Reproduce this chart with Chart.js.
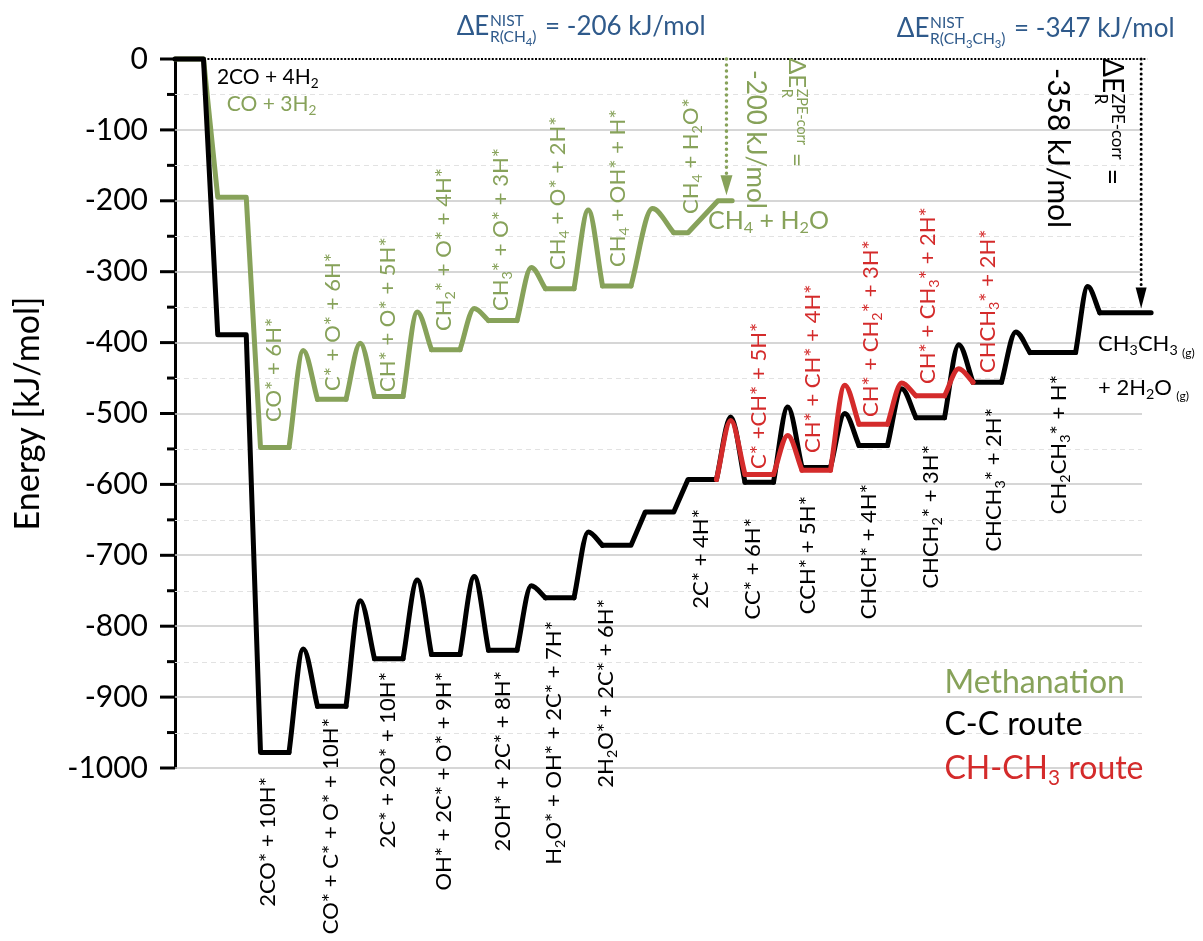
<!DOCTYPE html>
<html>
<head>
<meta charset="utf-8">
<script src="https://cdn.jsdelivr.net/npm/chart.js@4.4.0/dist/chart.umd.min.js"></script>
<style>
  html, body { margin: 0; padding: 0; background: #fff; }
  #wrap { position: relative; width: 1203px; height: 941px; overflow: hidden; font-family: Lato, "Open Sans", sans-serif; }
  #c { position: absolute; left: 0; top: 0; }
  #labels { position: absolute; left: 0; top: 0; width: 1203px; height: 941px; pointer-events: none; }
  .lb { position: absolute; white-space: nowrap; line-height: 1; transform-origin: 0 0; }
  .lb sub { font-size: 0.65em; vertical-align: -0.3em; line-height: 0; }
  .rot { letter-spacing: 0; }
  .g { font-size: 0.55em; vertical-align: -0.45em; margin-left: 0.35em; }
  .ss { display: inline-flex; flex-direction: column; font-size: 0.6em; line-height: 1.05; vertical-align: 0.55em; margin: 0 0.12em 0 0.04em; }
  .ss sub { font-size: 0.72em; vertical-align: -0.3em; }
</style>
</head>
<body>
<div id="wrap">
  <canvas id="c" width="1203" height="941"></canvas>
  <div id="labels"></div>
</div>
<script>
// ---- energies (kJ/mol) of intermediates and transition states ----
// Methanation: CO + 3H2 -> CH4 + H2O
const methLevels   = [0, -195, -548, -480, -476, -410, -369, -324, -320, -245, -200];
const methBarriers = [null, null, -411, -401, -357, -352, -294, -213, -211, null];

// C-C coupling route: 2CO + 4H2 -> CH3CH3 + 2H2O
const ccLevels   = [0, -389, -978, -913, -846, -840, -834, -760, -686, -639, -593, -597, -576, -545, -506, -456, -414, -358];
const ccBarriers = [null, null, -832, -764, -735, -730, -743, -667, null, null, -505, -491, -500, -465, -403, -385, -321];

// CH-CH3 route, branching off at 2C* + 4H* and rejoining at CHCH3* + 2H*
const chch3Levels   = [-593, -586, -580, -515, -475, -456];
const chch3Barriers = [-510, -531, -460, -457, -437];

// ---- state names ----
const methStates = ['CO + 3H<sub>2</sub>', null, 'CO* + 6H*', 'C* + O* + 6H*', 'CH* + O* + 5H*',
  'CH<sub>2</sub>* + O* + 4H*', 'CH<sub>3</sub>* + O* + 3H*', 'CH<sub>4</sub> + O* + 2H*',
  'CH<sub>4</sub> + OH* + H*', 'CH<sub>4</sub> + H<sub>2</sub>O*', 'CH<sub>4</sub> + H<sub>2</sub>O'];
const ccStates = ['2CO + 4H<sub>2</sub>', null, '2CO* + 10H*', 'CO* + C* + O* + 10H*', '2C* + 2O* + 10H*',
  'OH* + 2C* + O* + 9H*', '2OH* + 2C* + 8H*', 'H<sub>2</sub>O* + OH* + 2C* + 7H*',
  '2H<sub>2</sub>O* + 2C* + 6H*', null, '2C* + 4H*', 'CC* + 6H*', 'CCH* + 5H*', 'CHCH* + 4H*',
  'CHCH<sub>2</sub>* + 3H*', 'CHCH<sub>3</sub>* + 2H*', 'CH<sub>2</sub>CH<sub>3</sub>* + H*'];
const ccProducts = ['CH<sub>3</sub>CH<sub>3</sub><span class="g">(g)</span>', '+ 2H<sub>2</sub>O<span class="g">(g)</span>'];
const chch3States = [null, 'C* +CH* + 5H*', 'CH* + CH* + 4H*', 'CH* + CH<sub>2</sub>* + 3H*',
  'CH* + CH<sub>3</sub>* + 2H*', 'CHCH<sub>3</sub>* + 2H*'];

const legendNames = ['Methanation', 'C-C route', 'CH-CH<sub>3</sub> route'];

// reaction energies
const nistMeth = -206, nistEthane = -347;
const zpeMeth = -200, zpeEthane = -358;

// axis ticks
const yTickValues = [0, -100, -200, -300, -400, -500, -600, -700, -800, -900, -1000];
const yMinorTicks = [-50, -150, -250, -350, -450, -550, -650, -750, -850, -950];

// ---- layout (x in step units) ----
const X_MAX = 33.93;
const methPlateauW = [1, 1, 1, 1, 1, 1, 1, 1, 1, 0.5, 0.5];
const methGapW     = [0.5, 0.5, 1, 1, 1, 1, 1, 1, 1.5, 1.05];
const ccPlateauW   = [1, 1, 1, 1, 1, 1, 1, 1, 1, 1, 1, 1, 1, 1, 1, 1, 1.6, 1.8];
const ccGapW       = [0.5, 0.5, 1, 1, 1, 1, 1, 1, 0.5, 0.5, 1, 1, 1, 1, 1, 1, 0.85];
const chch3PlateauW = [0, 1, 1, 1, 1, 0];
const chch3GapW     = [1, 1, 1, 1, 1];
const chch3Start = 19;

// label anchors [x, energy]
const methLabelPos = [[1.82, -61], null, [3.44, -512], [5.5, -468], [7.44, -469], [9.4, -383],
  [11.4, -356], [13.4, -298], [15.51, -294], [18.07, -218], [18.7, -225]];
const ccLabelPos = [[1.47, -23], null, [3.22, -1013], [5.44, -929], [7.43, -865], [9.4, -865],
  [11.46, -863], [13.26, -792], [15.09, -761], null, [18.42, -634], [20.24, -647], [22.16, -616],
  [24.32, -599], [26.49, -545], [28.7, -492], [30.98, -446]];
const ccProductPos = [[32.39, -404], [32.39, -465]];
const chch3LabelPos = [null, [20.46, -578], [22.34, -556], [24.39, -505], [26.37, -458], [28.48, -443]];
const legendPos = [[27.0, -877], [27.0, -936], [27.0, -999]];

const GREEN = '#87a25a', BLACK = '#000000', RED = '#d42b2b', BLUE = '#2f5a8b';

// Build the profile: plateaus + straight steps go in one series, barrier humps
// (plateau end -> transition state -> next plateau) in a monotone-spline series.
function buildRoute(levels, barriers, plateauW, gapW, x0) {
  const straight = [], curve = [];
  let x = x0, end = x0;
  for (let i = 0; i < levels.length; i++) {
    const xs = x, xe = x + plateauW[i];
    end = xe;
    straight.push({ x: xs, y: levels[i] }, { x: xe, y: levels[i] });
    if (i < levels.length - 1) {
      const g = gapW[i];
      if (barriers[i] !== null) {
        straight.push({ x: xe + g / 2, y: null });
        curve.push({ x: xe, y: levels[i] }, { x: xe + g / 2, y: barriers[i] },
                   { x: xe + g, y: levels[i + 1] }, { x: xe + g, y: null });
      }
      x = xe + g;
    }
  }
  return { straight, curve, end };
}

const meth = buildRoute(methLevels, methBarriers, methPlateauW, methGapW, 0);
const cc = buildRoute(ccLevels, ccBarriers, ccPlateauW, ccGapW, 0);
const chch3 = buildRoute(chch3Levels, chch3Barriers, chch3PlateauW, chch3GapW, chch3Start);

function series(data, color, order, curved) {
  return {
    data, borderColor: color, borderWidth: 5, pointRadius: 0, fill: false, clip: false,
    borderCapStyle: 'round', borderJoinStyle: 'round', spanGaps: false, order,
    tension: 0, cubicInterpolationMode: curved ? 'monotone' : 'default'
  };
}

// ---- HTML text labels, positioned from the chart scales ----
const layer = document.getElementById('labels');
const placed = [];
const transforms = {
  up: 'rotate(-90deg) translateY(-50%)',
  down: 'rotate(-90deg) translate(-100%, -50%)',
  cw: 'rotate(90deg) translateY(-50%)',
  left: 'translateY(-50%)',
  center: 'translate(-50%, -50%)'
};
function addLabel(html, pos, mode, color, size, cls) {
  if (!html || !pos) return;
  const el = document.createElement('div');
  el.className = 'lb' + (cls ? ' ' + cls : '');
  el.innerHTML = html;
  el.style.color = color;
  el.style.fontSize = size + 'px';
  layer.appendChild(el);
  placed.push({ el, x: pos[0], y: pos[1], mode });
}

methStates.forEach((s, i) => {
  const horiz = i === 0 || i === methStates.length - 1;
  addLabel(s, methLabelPos[i], horiz ? 'left' : 'up', GREEN, horiz ? (i === 0 ? 21 : 25) : 22, horiz ? '' : 'rot');
});
ccStates.forEach((s, i) => {
  if (i === 0) addLabel(s, ccLabelPos[i], 'left', BLACK, 21);
  else addLabel(s, ccLabelPos[i], 'down', BLACK, 22, 'rot');
});
ccProducts.forEach((s, i) => addLabel(s, ccProductPos[i], 'left', BLACK, 22));
chch3States.forEach((s, i) => addLabel(s, chch3LabelPos[i], 'up', RED, 22, 'rot'));
legendNames.forEach((s, i) => addLabel(s, legendPos[i], 'left', [GREEN, BLACK, RED][i], 32));

const dE = (sup, sub) => '&Delta;E<span class="ss"><span>' + sup + '</span><span>' + sub + '</span></span>';
addLabel(dE('NIST', 'R(CH<sub>4</sub>)') + ' = ' + nistMeth + ' kJ/mol', [14.25, 43], 'center', BLUE, 26);
addLabel(dE('NIST', 'R(CH<sub>3</sub>CH<sub>3</sub>)') + ' = ' + nistEthane + ' kJ/mol', [30.2, 40], 'center', BLUE, 26);
addLabel(zpeMeth + ' kJ/mol', [20.42, -16], 'cw', GREEN, 26);
addLabel(dE('ZPE-corr', 'R') + ' =', [21.75, 1], 'cw', GREEN, 24);
addLabel(zpeEthane + ' kJ/mol', [31.05, -12], 'cw', BLACK, 30);
addLabel(dE('ZPE-corr', 'R') + ' =', [32.8, 1], 'cw', BLACK, 28);

function dottedArrow(ctx, px, yTop, yTip, color, dotW, period, headW, headH) {
  ctx.save();
  ctx.strokeStyle = color; ctx.fillStyle = color;
  ctx.lineWidth = dotW; ctx.lineCap = 'round';
  ctx.setLineDash([0.01, period]);
  ctx.beginPath(); ctx.moveTo(px, yTop); ctx.lineTo(px, yTip - headH); ctx.stroke();
  ctx.setLineDash([]);
  ctx.beginPath();
  ctx.moveTo(px - headW / 2, yTip - headH); ctx.lineTo(px + headW / 2, yTip - headH); ctx.lineTo(px, yTip);
  ctx.closePath(); ctx.fill();
  ctx.restore();
}

const decorations = {
  id: 'decorations',
  beforeDatasetsDraw(chart) {
    const { ctx, chartArea: a, scales: { x, y } } = chart;
    ctx.save();
    ctx.strokeStyle = '#e2e2e2'; ctx.lineWidth = 1.2; ctx.setLineDash([5, 4]);
    yMinorTicks.forEach(v => {
      const py = Math.round(y.getPixelForValue(v)) + 0.5;
      ctx.beginPath(); ctx.moveTo(a.left, py); ctx.lineTo(a.right, py); ctx.stroke();
    });
    ctx.setLineDash([]);
    ctx.strokeStyle = '#c8c8c8'; ctx.lineWidth = 1.5;
    yTickValues.filter(v => v !== 0).forEach(v => {
      const py = Math.round(y.getPixelForValue(v));
      ctx.beginPath(); ctx.moveTo(a.left, py); ctx.lineTo(a.right, py); ctx.stroke();
    });
    // zero-energy reference line
    const p0 = y.getPixelForValue(0);
    ctx.strokeStyle = '#000'; ctx.lineWidth = 2; ctx.setLineDash([2, 1.6]);
    ctx.beginPath(); ctx.moveTo(a.left, p0); ctx.lineTo(x.getPixelForValue(cc.end) - 4, p0); ctx.stroke();
    ctx.restore();
  },
  afterDatasetsDraw(chart) {
    const { ctx, scales: { x, y } } = chart;
    const top = y.getPixelForValue(0);
    dottedArrow(ctx, x.getPixelForValue(meth.end - 0.2), top, y.getPixelForValue(zpeMeth + 8),
                GREEN, 3.5, 6, 12, 20);
    dottedArrow(ctx, x.getPixelForValue(cc.end - 0.35), top, y.getPixelForValue(zpeEthane + 6),
                BLACK, 3, 5, 11, 21);
  },
  afterDraw(chart) {
    const { ctx, chartArea: a, scales: { x, y } } = chart;
    ctx.save();
    ctx.strokeStyle = '#000'; ctx.lineWidth = 3;
    yTickValues.forEach(v => {
      const py = y.getPixelForValue(v);
      ctx.beginPath(); ctx.moveTo(a.left - 15, py); ctx.lineTo(a.left, py); ctx.stroke();
    });
    yMinorTicks.forEach(v => {
      const py = y.getPixelForValue(v);
      ctx.beginPath(); ctx.moveTo(a.left - 8, py); ctx.lineTo(a.left, py); ctx.stroke();
    });
    ctx.restore();
    placed.forEach(p => {
      p.el.style.left = x.getPixelForValue(p.x) + 'px';
      p.el.style.top = y.getPixelForValue(p.y) + 'px';
      p.el.style.transform = transforms[p.mode];
    });
  }
};

new Chart(document.getElementById('c'), {
  type: 'line',
  data: {
    datasets: [
      series(chch3.straight, RED, 0, false),
      series(chch3.curve, RED, 1, true),
      series(cc.straight, BLACK, 2, false),
      series(cc.curve, BLACK, 3, true),
      series(meth.straight, GREEN, 4, false),
      series(meth.curve, GREEN, 5, true)
    ]
  },
  options: {
    responsive: false,
    animation: false,
    devicePixelRatio: 1,
    layout: { padding: { left: 0, right: 61, top: 59, bottom: 173 } },
    plugins: { legend: { display: false }, tooltip: { enabled: false } },
    scales: {
      x: { type: 'linear', min: 0, max: X_MAX, display: false },
      y: {
        type: 'linear', min: -1000, max: 0,
        afterFit(scale) { scale.width = 175; },
        afterBuildTicks(scale) { scale.ticks = yTickValues.map(v => ({ value: v })); },
        grid: { drawOnChartArea: false, drawTicks: false },
        border: { display: true, color: '#000', width: 3 },
        ticks: { padding: 27, color: '#000', font: { family: 'Lato', size: 30 },
                 callback: v => String(v) },
        title: { display: true, text: 'Energy [kJ/mol]', color: '#000',
                 font: { family: 'Lato', size: 34 }, padding: { top: 8, bottom: 0 } }
      }
    }
  },
  plugins: [decorations]
});
</script>
</body>
</html>
